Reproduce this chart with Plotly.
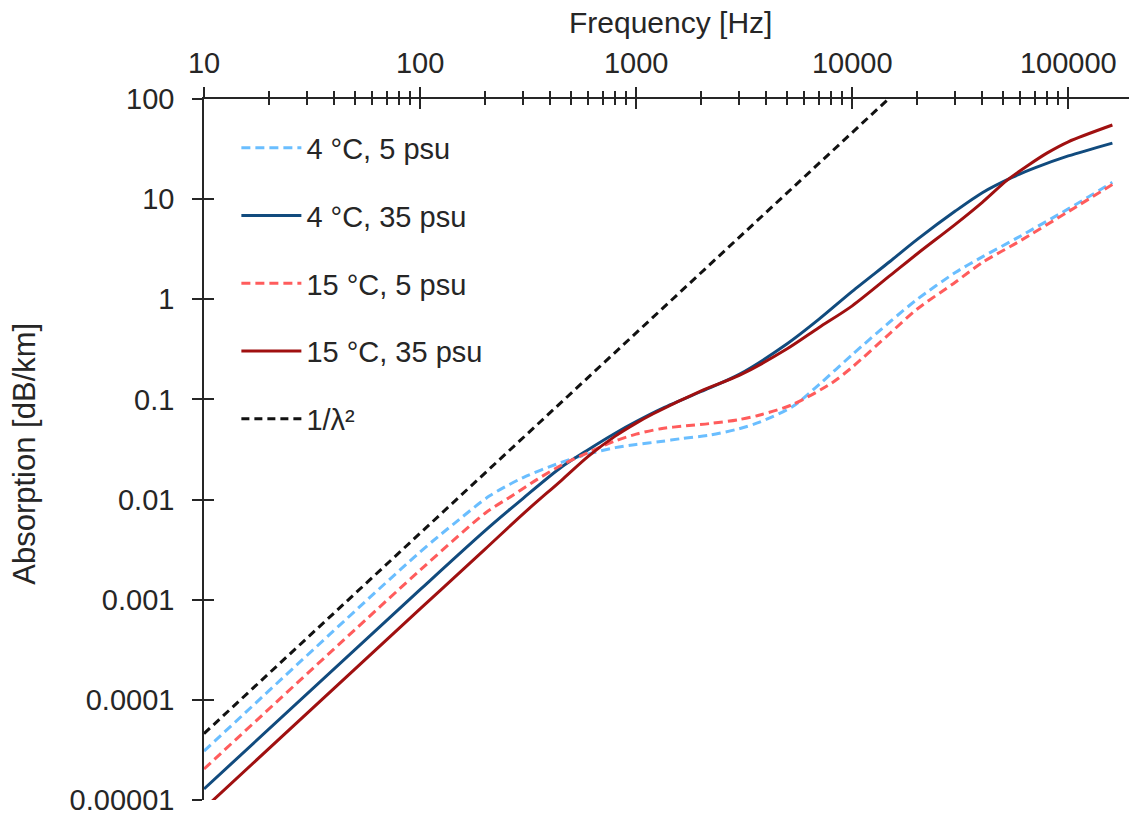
import plotly.graph_objects as go

# Frequency axis (Hz) and absorption (dB/km) for each water condition
freq_4c_5psu = [10, 100, 150, 210, 300, 450, 600, 800, 1000, 1300, 1600, 2200, 3000, 3700,
                5300, 7000, 10000, 15000, 20000, 30000, 40000, 58000, 100000, 160000]
abs_4c_5psu = [3.08e-5, 3.0e-3, 6.2e-3, 1.09e-2, 1.66e-2, 2.35e-2, 2.85e-2, 3.3e-2, 3.55e-2, 3.8e-2,
               4.05e-2, 4.4e-2, 5.1e-2, 5.9e-2, 8.5e-2, 0.14, 0.28, 0.60, 1.0, 1.85, 2.65, 4.1, 8.0, 14.7]

freq_4c_35psu = [10, 100, 200, 300, 450, 600, 800, 1000, 1300, 2000, 3000, 5000, 7000, 10000,
                 15000, 20000, 30000, 40000, 55000, 70000, 100000, 160000]
abs_4c_35psu = [1.29e-5, 1.26e-3, 4.9e-3, 1.03e-2, 2.1e-2, 3.15e-2, 4.6e-2, 6.0e-2, 8.0e-2, 0.12,
                0.178, 0.36, 0.63, 1.2, 2.4, 3.96, 7.6, 11.6, 16.5, 20.5, 27, 36.3]

freq_15c_5psu = [10, 100, 200, 270, 350, 450, 600, 800, 1000, 1300, 1700, 2200, 3000, 3700,
                 5300, 8000, 10000, 15000, 20000, 30000, 40000, 58000, 100000, 160000]
abs_15c_5psu = [2.04e-5, 1.97e-3, 7.3e-3, 1.11e-2, 1.6e-2, 2.2e-2, 2.95e-2, 3.85e-2, 4.5e-2, 5.1e-2,
                5.45e-2, 5.75e-2, 6.3e-2, 6.95e-2, 8.9e-2, 0.145, 0.21, 0.46, 0.80, 1.48, 2.33, 3.68, 7.5, 14.0]

freq_15c_35psu = [10, 100, 200, 300, 450, 600, 800, 1000, 1200, 2000, 3000, 5000, 7000, 10000,
                  15000, 20000, 30000, 40000, 52000, 65000, 80000, 100000, 160000]
abs_15c_35psu = [8.2e-6, 8.1e-4, 3.2e-3, 7.2e-3, 1.55e-2, 2.7e-2, 4.3e-2, 5.8e-2, 7.2e-2, 0.122,
                 0.174, 0.32, 0.52, 0.86, 1.73, 2.85, 5.6, 9.3, 15.4, 21.7, 29, 37.4, 55]

# Reference slope 1/lambda^2 (straight line on log-log)
freq_ref = [10, 14700]
abs_ref = [4.6e-5, 100]

series_names = ["4 °C, 5 psu", "4 °C, 35 psu", "15 °C, 5 psu", "15 °C, 35 psu", "1/λ²"]

x_tickvals = [10, 100, 1000, 10000, 100000]
x_ticktext = ["10", "100", "1000", "10000", "100000"]
y_tickvals = [1e-5, 1e-4, 1e-3, 1e-2, 1e-1, 1, 10, 100]
y_ticktext = ["0.00001", "0.0001", "0.001", "0.01", "0.1", "1", "10", "100"]

FONT = "Liberation Sans, Arial, sans-serif"
TEXT = "#262626"
AXIS = "#262626"

fig = go.Figure()

styles = [
    (freq_4c_5psu, abs_4c_5psu, "#6ABEFF", "9px,5px"),
    (freq_4c_35psu, abs_4c_35psu, "#114B7E", "solid"),
    (freq_15c_5psu, abs_15c_5psu, "#FF5C5C", "9px,5px"),
    (freq_15c_35psu, abs_15c_35psu, "#A01010", "solid"),
    (freq_ref, abs_ref, "#111111", "8px,5px"),
]
for i, ((fx, ay, color, dash), name) in enumerate(zip(styles, series_names)):
    fig.add_trace(go.Scatter(
        x=fx, y=ay, name=name, mode="lines",
        line=dict(color=color, width=3, dash=dash, shape="spline", smoothing=0.8),
        legendgroup=f"g{i}",
    ))

# Invisible trace holding the mirror axes that draw the inner half of each tick
fig.add_trace(go.Scatter(x=[10], y=[1], xaxis="x2", yaxis="y2", mode="markers",
                         marker=dict(opacity=0), showlegend=False, hoverinfo="skip"))

x_range = [1, 5.281]
y_range = [-5, 2]
minor_x = [m * 10 ** e for e in range(1, 6) for m in range(2, 10)]

common_x = dict(type="log", range=x_range, side="top", showgrid=False, zeroline=False,
                tickvals=x_tickvals, ticktext=x_ticktext, tickwidth=1.5, tickcolor=AXIS)
common_y = dict(type="log", range=y_range, showgrid=False, zeroline=False,
                tickvals=y_tickvals, ticktext=y_ticktext, tickwidth=1.5, tickcolor=AXIS)

fig.update_layout(
    width=1129, height=816,
    margin=dict(l=204, r=0, t=99, b=13),
    paper_bgcolor="white", plot_bgcolor="white",
    font=dict(family=FONT, size=29, color=TEXT),
    xaxis=dict(**common_x, ticks="outside", ticklen=10, showline=True, linecolor=AXIS,
               linewidth=1.5, ticklabelstandoff=3, ticklabeloverflow="allow",
               tickfont=dict(family=FONT, size=29, color=TEXT),
               minor=dict(tickvals=minor_x, ticks="outside", ticklen=6, tickwidth=1.5,
                          tickcolor=AXIS, showgrid=False)),
    xaxis2=dict(**common_x, overlaying="x", anchor="y", ticks="inside", ticklen=10,
                showticklabels=False, showline=False,
                minor=dict(tickvals=minor_x, ticks="inside", ticklen=6, tickwidth=1.5,
                           tickcolor=AXIS, showgrid=False)),
    yaxis=dict(**common_y, ticks="outside", ticklen=10, showline=True, linecolor=AXIS,
               linewidth=1.5, ticklabelstandoff=12, ticklabeloverflow="allow",
               tickfont=dict(family=FONT, size=29, color=TEXT)),
    yaxis2=dict(**common_y, overlaying="y", anchor="x", side="left", ticks="inside",
                ticklen=10, showticklabels=False, showline=False),
    legend=dict(x=0.035, y=0.9665, xanchor="left", yanchor="top",
                bgcolor="rgba(0,0,0,0)", borderwidth=0, itemwidth=60,
                tracegroupgap=27, traceorder="grouped",
                font=dict(family=FONT, size=29, color=TEXT)),
    showlegend=True,
    annotations=[
        dict(text="Frequency [Hz]", xref="paper", yref="paper", x=0.504, y=1.109,
             xanchor="center", yanchor="middle", showarrow=False,
             font=dict(family=FONT, size=30, color=TEXT)),
        dict(text="Absorption [dB/km]", xref="paper", yref="paper", x=-0.1935, y=0.494,
             xanchor="center", yanchor="middle", textangle=-90, showarrow=False,
             font=dict(family=FONT, size=31, color=TEXT)),
    ],
)

fig.write_html("out.html")
